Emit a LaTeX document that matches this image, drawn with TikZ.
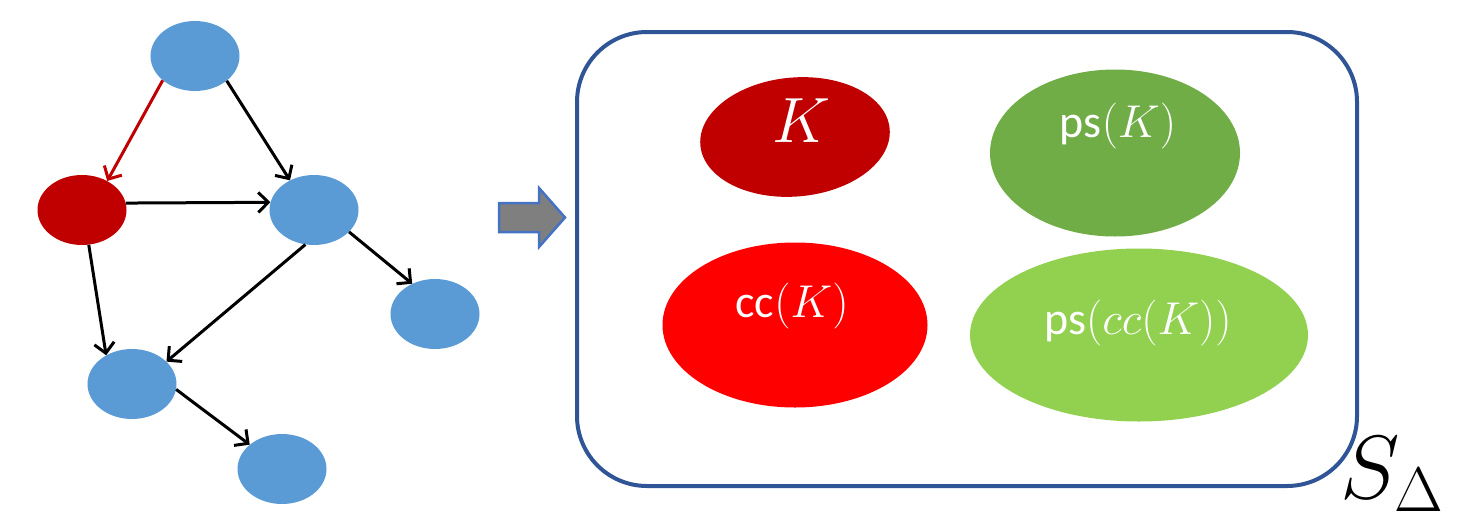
\RequirePackage{fix-cm}
\documentclass[tikz,border=0pt]{standalone}
\usepackage{fontspec}
\setmainfont{Carlito}
\usetikzlibrary{shapes.geometric,arrows.meta}
\definecolor{nblue}{HTML}{5B9BD5}
\definecolor{nred}{HTML}{C00000}
\definecolor{boxblue}{HTML}{2F5597}
\definecolor{arrblue}{HTML}{4472C4}
\definecolor{arrgray}{HTML}{7F7F7F}
\definecolor{psgreen}{HTML}{70AD47}
\definecolor{lgreen}{HTML}{92D050}
\definecolor{ccred}{HTML}{FF0000}
\tikzset{
  gnode/.style={ellipse, draw=none, fill=nblue, inner sep=0pt, minimum width=89pt, minimum height=70pt},
  setell/.style={ellipse, draw=none, inner sep=0pt},
  edge/.style={line width=3pt, -{Straight Barb[length=10pt,width=20pt]}},
  lbl/.style={text=white, inner sep=0pt, font=\fontsize{46}{54}\selectfont},
}
\begin{document}
\begin{tikzpicture}[x=1pt, y=-1pt]
\useasboundingbox (0,0) rectangle (1463,522);
% graph
\node[gnode] (A) at (195,56) {};
\node[gnode, fill=nred] (B) at (82,210) {};
\node[gnode] (C) at (314,210) {};
\node[gnode] (D) at (435,314) {};
\node[gnode] (E) at (132,384) {};
\node[gnode] (F) at (282,469) {};
\draw[edge, draw=nred] (A.217) -- (B.49);
\draw[edge] (A.322) -- (C.129);
\draw[edge] (B.9) -- (C.170);
\draw[edge] (B.281) -- (E.132);
\draw[edge] (C.256) -- (E.33);
\draw[edge] (C.328) -- (D.127);
\draw[edge] (E.353) -- (F.143);
% big arrow
\draw[fill=arrgray, draw=arrblue, line width=2.5pt, line join=miter]
  (499,203) -- (539,203) -- (539,188) -- (565,217.5) -- (539,247) -- (539,232) -- (499,232) -- cycle;
% box
\draw[draw=boxblue, line width=4pt, rounded corners=70pt] (577,32) rectangle (1357,486);
% set ellipses
\node[setell, fill=nred, minimum width=190pt, minimum height=119pt, rotate=5] (eK) at (795,137) {};
\node[setell, fill=psgreen, minimum width=250pt, minimum height=167pt] (ePs) at (1115,153) {};
\node[setell, fill=ccred, minimum width=265pt, minimum height=165pt] (eCc) at (795,325) {};
\node[setell, fill=lgreen, minimum width=338pt, minimum height=173pt] (ePcc) at (1139,335) {};
% labels
\node[text=white, inner sep=0pt, font=\fontsize{64}{70}\selectfont] (tK) at (801,121) {$K$};
\node[lbl, anchor=base] (tPs) at (1118,137) {ps$(K)$};
\node[lbl, anchor=base] (tCc) at (792,317) {cc$(K)$};
\node[lbl, anchor=base] (tPcc) at (1138,334) {ps$(cc(K))$};
\node[inner sep=0pt, anchor=base west, font=\fontsize{90}{100}\selectfont] (sd) at (1340,498) {$S_\Delta$};
\end{tikzpicture}
\end{document}
